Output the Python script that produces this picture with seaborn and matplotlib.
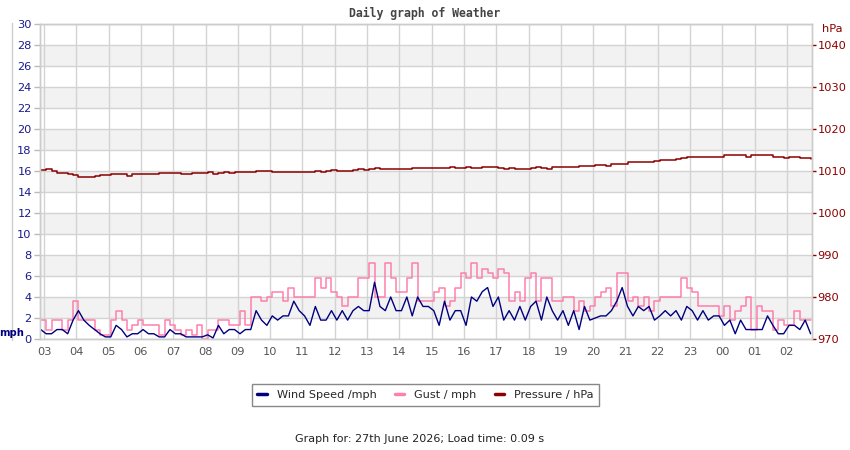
import numpy as np
import pandas as pd
import seaborn as sns
import matplotlib.pyplot as plt
from matplotlib.lines import Line2D

# readings every 10 minutes, first one at 02:54
start_hour = 2.9
step_minutes = 10

wind = [0.9, 0.5, 0.5, 0.9, 0.9, 0.5, 1.8, 2.7, 1.8, 1.3, 0.9, 0.5, 0.2, 0.2, 1.3, 0.9,
        0.2, 0.5, 0.5, 0.9, 0.5, 0.5, 0.2, 0.2, 0.9, 0.5, 0.5, 0.2, 0.2, 0.2, 0.2, 0.4,
        0.1, 1.3, 0.5, 0.9, 0.9, 0.5, 0.9, 0.9, 2.7, 1.8, 1.3, 2.2, 1.8, 2.2, 2.2, 3.6,
        2.7, 2.2, 1.3, 3.1, 1.8, 1.8, 2.7, 1.8, 2.7, 1.8, 2.7, 3.1, 2.7, 2.7, 5.4, 3.1,
        2.7, 4.0, 2.7, 2.7, 4.0, 2.2, 4.0, 3.1, 3.1, 2.7, 1.3, 3.6, 1.8, 2.7, 2.7, 1.3,
        4.0, 3.6, 4.5, 4.9, 3.1, 4.0, 1.8, 2.7, 1.8, 3.1, 1.8, 3.1, 3.6, 1.8, 4.0, 2.7,
        1.8, 2.7, 1.3, 2.7, 0.9, 3.1, 1.8, 2.0, 2.2, 2.2, 2.7, 3.6, 4.9, 3.1, 2.2, 3.1,
        2.7, 3.1, 1.8, 2.2, 2.7, 2.2, 2.7, 1.8, 3.1, 2.7, 1.8, 2.7, 1.8, 2.2, 2.2, 1.3,
        1.8, 0.5, 1.8, 0.9, 0.9, 0.9, 0.9, 2.2, 1.3, 0.5, 0.5, 1.3, 1.3, 0.9, 1.8, 0.5]

gust = [1.8, 0.9, 1.8, 1.8, 0.9, 1.8, 3.6, 1.8, 1.8, 1.8, 0.9, 0.4, 0.4, 1.8, 2.7, 1.8,
        0.9, 1.3, 1.8, 1.3, 1.3, 1.3, 0.4, 1.8, 1.3, 0.9, 0.4, 0.9, 0.4, 1.3, 0.0, 0.9,
        0.9, 1.8, 1.8, 1.3, 1.3, 2.7, 1.3, 4.0, 4.0, 3.6, 4.0, 4.5, 4.5, 3.6, 4.9, 4.0,
        4.0, 4.0, 4.0, 5.8, 4.9, 5.8, 4.5, 4.0, 3.1, 4.0, 4.0, 5.8, 5.8, 7.2, 4.0, 4.0,
        7.2, 5.8, 4.5, 4.5, 5.8, 7.2, 3.6, 3.6, 3.6, 4.5, 4.9, 3.1, 3.6, 4.9, 6.3, 5.8,
        7.2, 5.8, 6.7, 6.3, 5.8, 6.7, 6.3, 3.6, 4.5, 3.6, 5.8, 6.3, 3.6, 5.8, 5.8, 3.6,
        3.6, 4.0, 4.0, 2.7, 3.6, 2.7, 3.1, 4.0, 4.5, 4.9, 3.1, 6.3, 6.3, 3.6, 4.0, 3.1,
        4.0, 2.7, 3.6, 4.0, 4.0, 4.0, 4.0, 5.8, 4.9, 4.5, 3.1, 3.1, 3.1, 3.1, 2.2, 3.1,
        1.8, 2.7, 3.1, 4.0, 0.9, 3.1, 2.7, 2.7, 0.9, 1.8, 1.3, 1.3, 2.7, 1.8, 1.8, 1.8]

pressure = [1010.3, 1010.5, 1009.9, 1009.6, 1009.6, 1009.3, 1009.1, 1008.6,
            1008.6, 1008.6, 1008.8, 1009.1, 1009.1, 1009.3, 1009.2, 1009.2,
            1008.9, 1009.2, 1009.2, 1009.3, 1009.3, 1009.3, 1009.6, 1009.6,
            1009.6, 1009.6, 1009.3, 1009.3, 1009.6, 1009.6, 1009.6, 1009.7,
            1009.3, 1009.6, 1009.8, 1009.6, 1009.8, 1009.8, 1009.8, 1009.8,
            1010.0, 1010.0, 1010.0, 1009.8, 1009.8, 1009.8, 1009.8, 1009.8,
            1009.8, 1009.8, 1009.8, 1010.0, 1009.8, 1010.0, 1010.3, 1010.0,
            1010.0, 1010.0, 1010.3, 1010.5, 1010.3, 1010.5, 1010.7, 1010.5,
            1010.5, 1010.5, 1010.5, 1010.4, 1010.5, 1010.7, 1010.7, 1010.7,
            1010.7, 1010.7, 1010.7, 1010.7, 1011.0, 1010.7, 1010.7, 1011.0,
            1010.7, 1010.7, 1011.0, 1011.0, 1011.0, 1010.7, 1010.5, 1010.7,
            1010.5, 1010.5, 1010.5, 1010.7, 1011.0, 1010.7, 1010.5, 1011.0,
            1011.0, 1011.0, 1011.0, 1011.0, 1011.2, 1011.2, 1011.2, 1011.5,
            1011.5, 1011.2, 1011.7, 1011.7, 1011.7, 1012.2, 1012.2, 1012.2,
            1012.2, 1012.2, 1012.4, 1012.6, 1012.6, 1012.6, 1012.9, 1013.1,
            1013.4, 1013.4, 1013.4, 1013.4, 1013.4, 1013.4, 1013.4, 1013.8,
            1013.9, 1013.7, 1013.7, 1013.4, 1013.7, 1013.7, 1013.7, 1013.7,
            1013.4, 1013.4, 1013.1, 1013.3, 1013.3, 1013.0, 1013.0, 1012.8]

hour_ticks = list(range(3, 27))
hour_labels = ["03", "04", "05", "06", "07", "08", "09", "10", "11", "12", "13", "14",
               "15", "16", "17", "18", "19", "20", "21", "22", "23", "00", "01", "02"]
mph_ticks = list(range(0, 31, 2))
hpa_ticks = list(range(970, 1041, 10))

df = pd.DataFrame({
    "hour": start_hour + np.arange(len(wind)) * step_minutes / 60,
    "wind": wind,
    "gust": gust,
    "pressure": pressure,
})

sns.set_style("white")
plt.rcParams["font.family"] = ["DejaVu Sans"]

W, H = 850, 450
fig = plt.figure(figsize=(8.5, 4.5), dpi=100)
ax = fig.add_axes([40 / W, 1 - 339 / H, 772 / W, 315 / H])
ax2 = ax.twinx()

# alternating grey bands
for lo in range(2, 30, 4):
    ax.axhspan(lo, lo + 2, color="#f2f2f2", lw=0, zorder=0)

sns.lineplot(data=df, x="hour", y="gust", ax=ax, color="#ff7fae", lw=1.1,
             drawstyle="steps-post", zorder=2)
sns.lineplot(data=df, x="hour", y="wind", ax=ax, color="#000080", lw=1.0, zorder=3)
sns.lineplot(data=df, x="hour", y="pressure", ax=ax2, color="#8b0000", lw=1.1,
             drawstyle="steps-post")

ax.set_xlim(2.876, 26.777)
ax.set_ylim(0, 30)
ax2.set_ylim(970, 1045)

ax.set_xticks(hour_ticks)
ax.set_xticklabels(hour_labels)
ax.set_yticks(mph_ticks)
ax2.set_yticks(hpa_ticks)
ax.set_xlabel("")
ax.set_ylabel("")
ax2.set_ylabel("")

ax.grid(True, color="#d3d3d3", lw=1)
ax.set_axisbelow(True)
ax2.grid(False)

for a in (ax, ax2):
    for s in a.spines.values():
        s.set_color("#cccccc")
        s.set_linewidth(1)

ax.tick_params(axis="y", left=True, length=4, width=1, color="#bbbbbb",
               labelcolor="#1a1a8c", labelsize=8.2, pad=2)
ax.tick_params(axis="x", length=0, labelcolor="#555555", labelsize=8.2, pad=5.5)
ax2.tick_params(axis="y", right=True, length=3, width=1, color="#8b0000",
                labelcolor="#8b0000", labelsize=8.2, pad=1)

fig.add_artist(Line2D([12 / W, 12 / W], [1 - 23 / H, 1 - 340 / H], color="#cccccc", lw=1))

fig.text(425 / W, 1 - 13 / H, "Daily graph of Weather", ha="center", va="center",
         family="DejaVu Sans Mono", weight="bold", size=8.3, color="#444444")
fig.text(12 / W, 1 - 333 / H, "mph", ha="center", va="center", weight="bold",
         size=7.2, color="#000080")
fig.text(832 / W, 1 - 29 / H, "hPa", ha="center", va="center", size=8.2, color="#8b0000")

handles = [Line2D([], [], color="#000080", lw=2.5),
           Line2D([], [], color="#ff7fae", lw=2.5),
           Line2D([], [], color="#8b0000", lw=2.5)]
leg = fig.legend(handles, ["Wind Speed /mph", "Gust / mph", "Pressure / hPa"],
                 loc="center", bbox_to_anchor=(425.5 / W, 1 - 395 / H), ncol=3,
                 fontsize=8.1, frameon=True, fancybox=False, edgecolor="#888888",
                 framealpha=1, handlelength=0.85, handletextpad=0.9,
                 columnspacing=1.6, borderpad=0.5)
leg.get_frame().set_linewidth(1)

fig.text(420 / W, 1 - 439 / H, "Graph for: 27th June 2026; Load time: 0.09 s",
         ha="center", va="center", size=8, color="#222222")

fig.savefig("out.png", dpi=100)
